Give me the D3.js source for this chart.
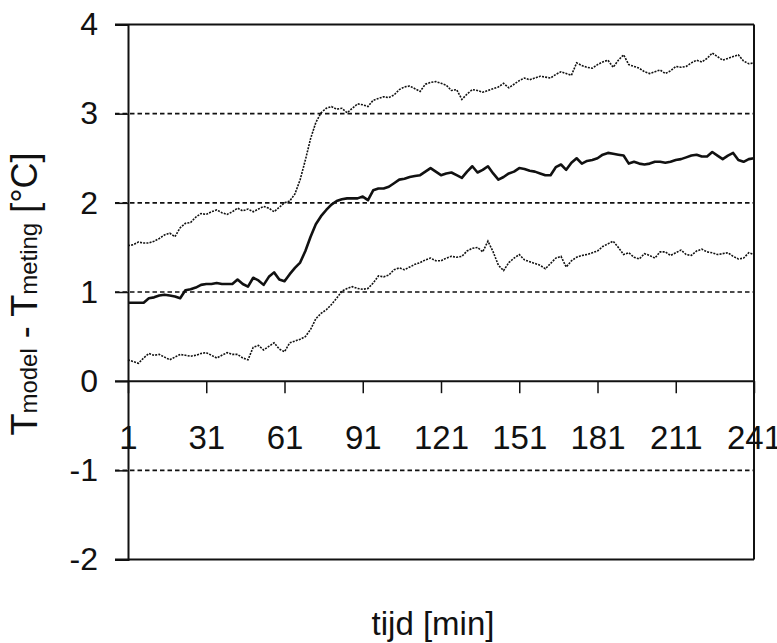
<!DOCTYPE html>
<html>
<head>
<meta charset="utf-8">
<script src="https://cdn.jsdelivr.net/npm/d3@7"></script>
<style>
  body { margin: 0; background: #fff; }
  svg { display: block; font-family: "Liberation Sans", Arial, sans-serif; }
</style>
</head>
<body>
<svg id="chart" width="777" height="643"></svg>
<script>

// time in minutes, one reading every 2 min
var minutes = d3.range(1, 242, 2);

var upperSeries = [
    1.52,1.53,1.56,1.55,1.55,1.57,1.60,1.64,1.66,1.62,
    1.72,1.77,1.78,1.84,1.88,1.87,1.90,1.92,1.89,1.87,
    1.90,1.94,1.91,1.93,1.90,1.93,1.96,1.94,1.90,1.95,
    2.00,2.02,2.10,2.26,2.48,2.72,2.90,3.01,3.06,3.08,
    3.05,3.06,3.01,3.06,3.11,3.10,3.08,3.15,3.17,3.19,
    3.18,3.21,3.27,3.30,3.31,3.28,3.25,3.33,3.35,3.36,
    3.34,3.32,3.26,3.27,3.16,3.22,3.27,3.26,3.24,3.26,
    3.28,3.30,3.34,3.29,3.33,3.37,3.40,3.38,3.40,3.42,
    3.41,3.40,3.44,3.47,3.45,3.43,3.57,3.54,3.52,3.51,
    3.55,3.58,3.60,3.52,3.60,3.66,3.55,3.53,3.51,3.47,
    3.45,3.47,3.49,3.45,3.48,3.53,3.52,3.53,3.57,3.60,
    3.58,3.62,3.68,3.64,3.60,3.62,3.64,3.66,3.59,3.56,
    3.57
];

var middleSeries = [
    0.88,0.88,0.88,0.88,0.93,0.94,0.96,0.97,0.96,0.95,
    0.93,1.02,1.03,1.05,1.08,1.09,1.09,1.10,1.09,1.09,
    1.09,1.14,1.09,1.06,1.16,1.13,1.08,1.17,1.22,1.14,
    1.12,1.20,1.27,1.33,1.46,1.62,1.76,1.85,1.92,1.98,
    2.02,2.04,2.05,2.05,2.05,2.07,2.03,2.14,2.16,2.16,
    2.18,2.22,2.26,2.27,2.29,2.30,2.31,2.35,2.39,2.35,
    2.31,2.33,2.34,2.31,2.28,2.35,2.41,2.34,2.37,2.41,
    2.33,2.26,2.29,2.33,2.35,2.39,2.38,2.36,2.35,2.33,
    2.31,2.31,2.40,2.43,2.37,2.45,2.50,2.44,2.47,2.48,
    2.50,2.54,2.56,2.55,2.54,2.53,2.44,2.46,2.44,2.43,
    2.44,2.46,2.46,2.45,2.46,2.48,2.49,2.51,2.53,2.54,
    2.52,2.52,2.57,2.53,2.49,2.53,2.56,2.48,2.46,2.49,
    2.50
];

var lowerSeries = [
    0.24,0.22,0.20,0.26,0.31,0.29,0.30,0.27,0.24,0.27,
    0.30,0.29,0.28,0.29,0.31,0.32,0.29,0.26,0.29,0.32,
    0.30,0.30,0.26,0.24,0.38,0.40,0.35,0.39,0.43,0.36,
    0.33,0.43,0.45,0.47,0.50,0.58,0.70,0.76,0.80,0.86,
    0.93,1.01,1.04,1.06,1.04,1.03,1.04,1.10,1.18,1.17,
    1.19,1.25,1.27,1.25,1.28,1.31,1.33,1.36,1.38,1.35,
    1.35,1.38,1.40,1.39,1.40,1.46,1.49,1.50,1.45,1.57,
    1.45,1.30,1.24,1.33,1.38,1.42,1.36,1.34,1.32,1.30,
    1.26,1.32,1.38,1.40,1.28,1.35,1.39,1.41,1.42,1.44,
    1.46,1.51,1.54,1.57,1.50,1.42,1.44,1.39,1.37,1.43,
    1.41,1.38,1.45,1.45,1.41,1.44,1.47,1.42,1.41,1.46,
    1.48,1.45,1.44,1.42,1.43,1.44,1.40,1.37,1.38,1.44,
    1.42
];

var xTicks = [1, 31, 61, 91, 121, 151, 181, 211, 241];
var yTicks = [-2, -1, 0, 1, 2, 3, 4];
var gridValues = [3, 2, 1, -1];


var svg = d3.select("#chart");

var plotLeft = 128, plotRight = 754, plotTop = 24.5, plotBottom = 559.5;

var x = d3.scaleLinear().domain([1, 241]).range([plotLeft, plotRight]);
var y = d3.scaleLinear().domain([-2, 4]).range([plotBottom, plotTop]);

// dashed gridlines
svg.selectAll(".grid")
    .data(gridValues)
    .enter().append("line")
    .attr("class", "grid")
    .attr("x1", plotLeft - 13)
    .attr("x2", plotRight)
    .attr("y1", d => y(d))
    .attr("y2", d => y(d))
    .attr("stroke", "#111")
    .attr("stroke-width", 1.7)
    .attr("stroke-dasharray", "4.5,3");

// frame: top, right, bottom
svg.append("line").attr("x1", plotLeft - 13).attr("x2", plotRight).attr("y1", plotTop).attr("y2", plotTop)
    .attr("stroke", "#111").attr("stroke-width", 2);
svg.append("line").attr("x1", plotLeft - 13).attr("x2", plotRight).attr("y1", plotBottom).attr("y2", plotBottom)
    .attr("stroke", "#111").attr("stroke-width", 2);
svg.append("line").attr("x1", plotRight).attr("x2", plotRight).attr("y1", plotTop).attr("y2", plotBottom)
    .attr("stroke", "#111").attr("stroke-width", 2);

// y axis
var yAxis = svg.append("g")
    .attr("transform", "translate(" + plotLeft + ",0)")
    .call(d3.axisLeft(y).tickValues(yTicks).tickSize(13).tickPadding(17)
        .tickFormat(d => String(d)));
yAxis.select(".domain").attr("stroke", "#111").attr("stroke-width", 2);
yAxis.selectAll(".tick line").attr("stroke", "#111").attr("stroke-width", 1.5);
yAxis.selectAll(".tick text")
    .attr("font-size", 32)
    .attr("fill", "#111")
    .attr("font-family", "Liberation Sans, Arial, sans-serif");

// x axis at value 0
var xAxis = svg.append("g")
    .attr("transform", "translate(0," + y(0) + ")")
    .call(d3.axisBottom(x).tickValues(xTicks).tickSize(12).tickPadding(32)
        .tickFormat(d => String(d)));
xAxis.select(".domain").attr("stroke", "#111").attr("stroke-width", 2)
    .attr("d", "M" + (plotLeft - 13) + ",0H" + plotRight);
xAxis.selectAll(".tick line").attr("stroke", "#111").attr("stroke-width", 1.5);
xAxis.selectAll(".tick text")
    .attr("font-size", 33)
    .attr("fill", "#111")
    .attr("font-family", "Liberation Sans, Arial, sans-serif");

// series
var line = d3.line()
    .x((d, i) => x(minutes[i]))
    .y(d => y(d));

svg.append("path")
    .datum(upperSeries)
    .attr("d", line)
    .attr("fill", "none")
    .attr("stroke", "#111")
    .attr("stroke-width", 1.6)
    .attr("stroke-dasharray", "2,1.2");

svg.append("path")
    .datum(lowerSeries)
    .attr("d", line)
    .attr("fill", "none")
    .attr("stroke", "#111")
    .attr("stroke-width", 1.6)
    .attr("stroke-dasharray", "2,1.2");

svg.append("path")
    .datum(middleSeries)
    .attr("d", line)
    .attr("fill", "none")
    .attr("stroke", "#111")
    .attr("stroke-width", 2.6)
    .attr("stroke-linejoin", "round");

// axis titles
var yTitle = svg.append("text")
    .attr("transform", "translate(37,294) rotate(-90)")
    .attr("text-anchor", "middle")
    .attr("font-size", 36)
    .attr("fill", "#111");
yTitle.append("tspan").text("T");
yTitle.append("tspan").attr("font-size", 24).text("model");
yTitle.append("tspan").text(" - T");
yTitle.append("tspan").attr("font-size", 24).text("meting");
yTitle.append("tspan").text(" [°C]");

svg.append("text")
    .attr("x", 433)
    .attr("y", 635)
    .attr("text-anchor", "middle")
    .attr("font-size", 33)
    .attr("fill", "#111")
    .text("tijd [min]");

</script>
</body>
</html>
